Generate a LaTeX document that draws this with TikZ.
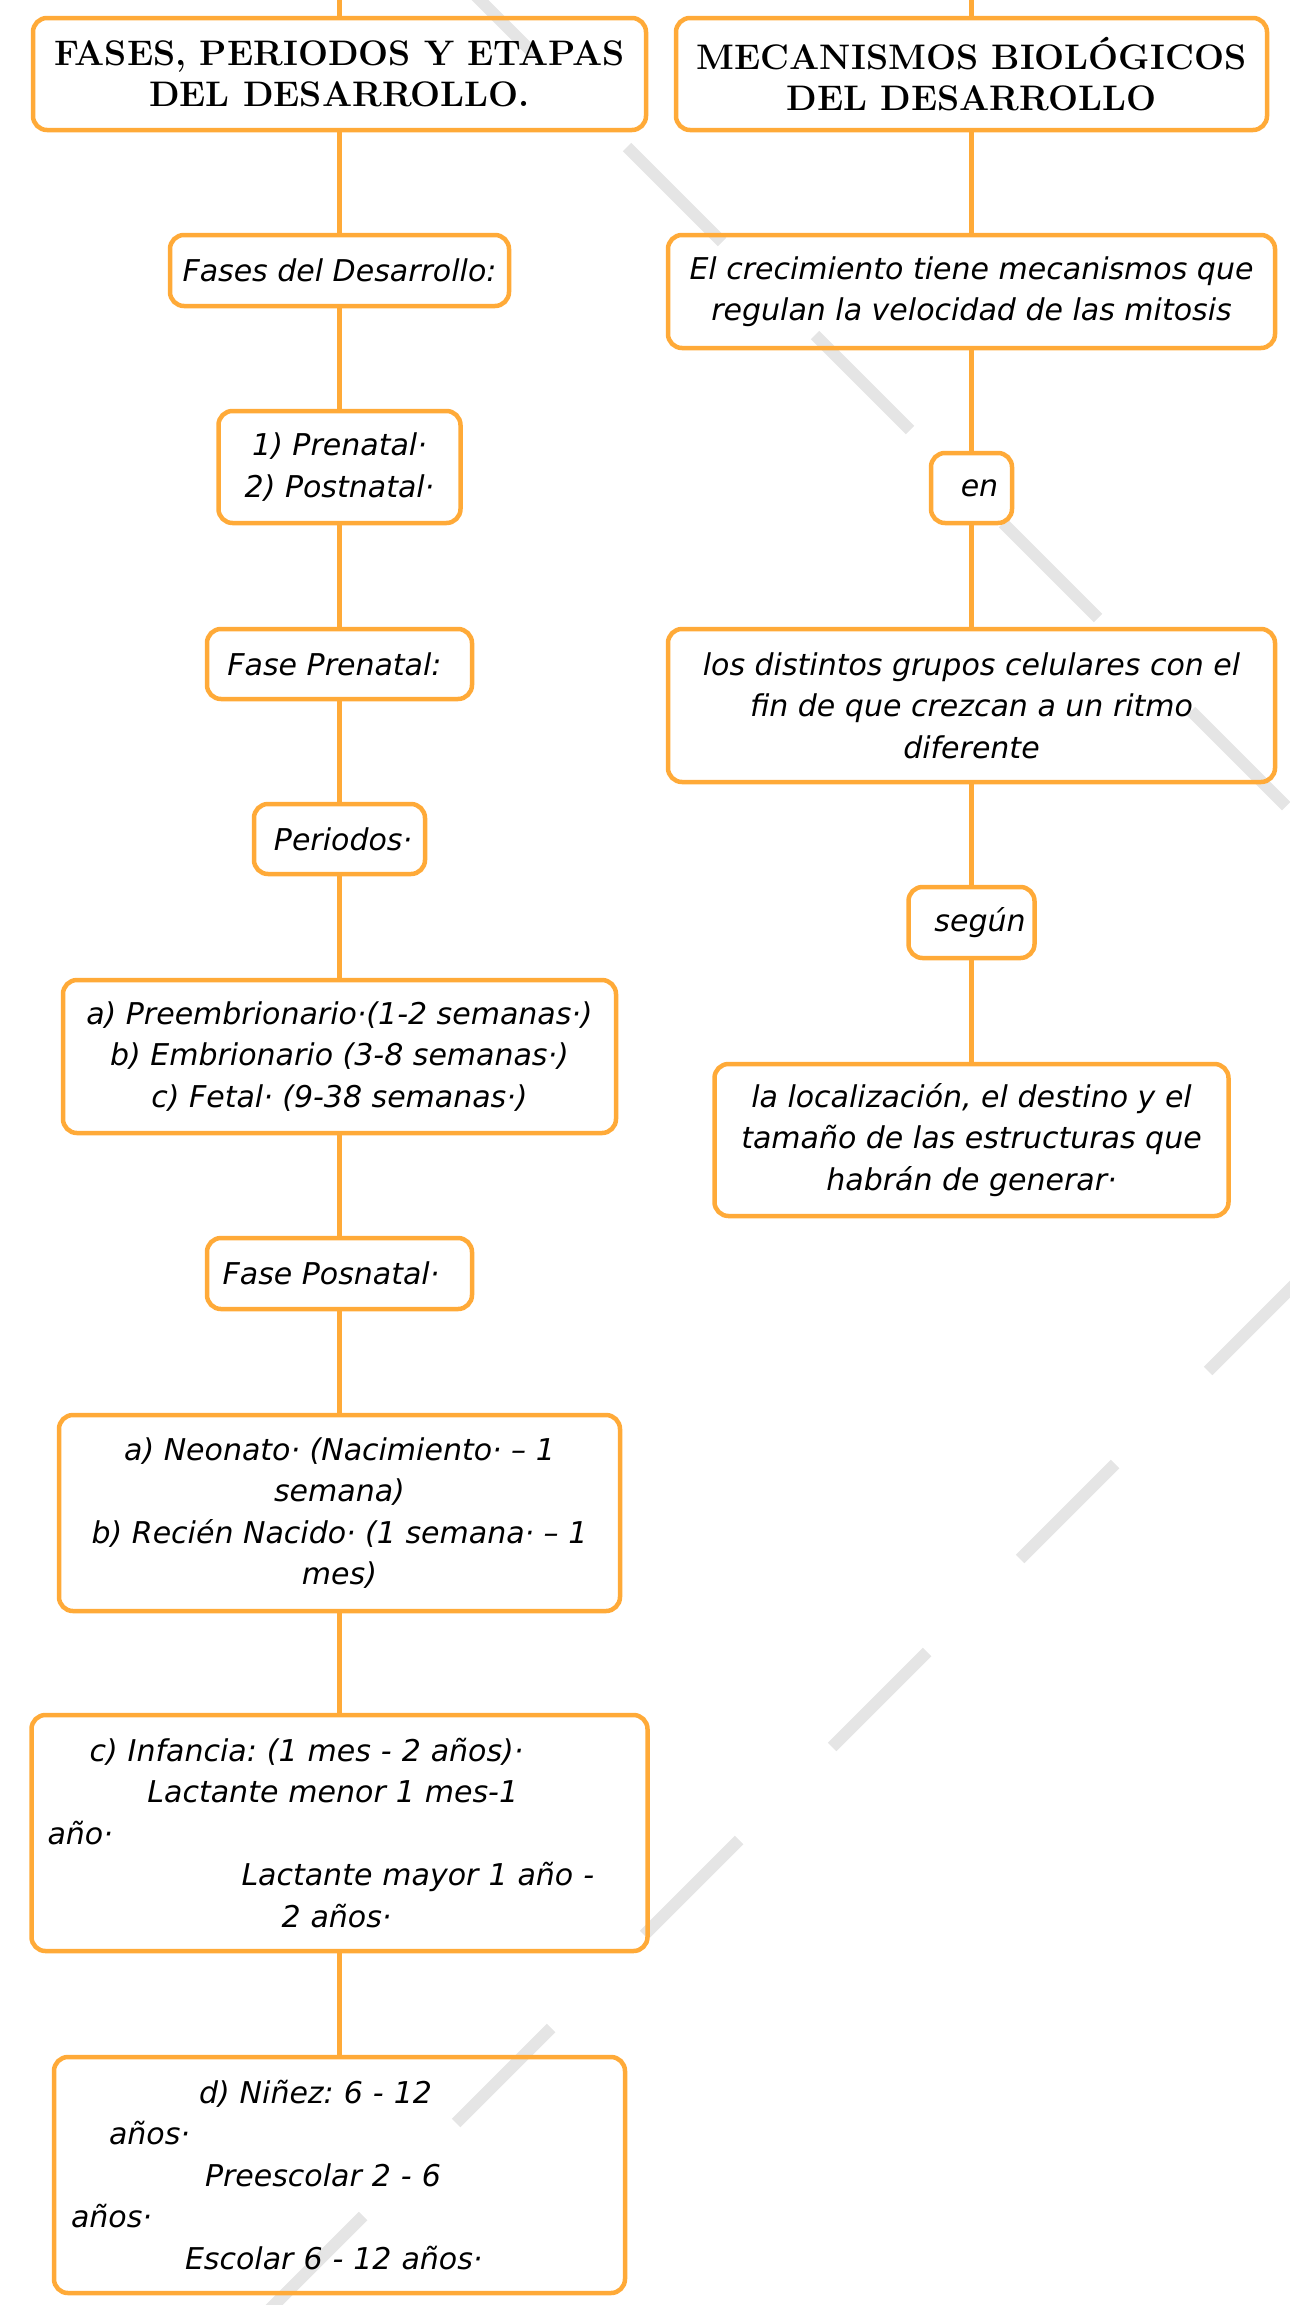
\documentclass[tikz,border=0pt]{standalone}
\usepackage{fontspec}
\usepackage{tikz}
\newfontfamily\manofont{DejaVu Sans}
\definecolor{naranja}{RGB}{255,170,56}
\definecolor{marca}{RGB}{229,229,229}
\frenchspacing

\begin{document}
\begin{tikzpicture}[x=1pt,y=-1pt,
    caja/.style={draw=naranja, line width=4.5pt, rounded corners=14pt, inner sep=0pt, align=center,
        font=\manofont\itshape\fontsize{30}{41.5}\selectfont},
    titulo/.style={caja, font=\bfseries\fontsize{35.5}{41}\selectfont},
    linea/.style={draw=naranja, line width=4.5pt},
    marcaagua/.style={draw=marca, line width=12pt, dash pattern=on 134.4pt off 131.5pt}]
    \useasboundingbox (0,0) rectangle (1290,2305);

    % marca de agua
    \draw[marcaagua] (439,-41) -- (1400,920);
    \draw[marcaagua] (268,2311) -- (1400,1179);

    % titulos
    \coordinate (arribaL) at (339.5,0);
    \coordinate (arribaR) at (971.5,0);
    \node[titulo, minimum width=613pt, minimum height=112pt] (fases) at (339.5,74) {FASES, PERIODOS Y ETAPAS\\DEL DESARROLLO.};
    \node[titulo, minimum width=591pt, minimum height=112pt] (mecanismos) at (971.5,74) {MECANISMOS BIOLÓGICOS\\DEL DESARROLLO};

    % columna izquierda
    \node[caja, minimum width=339pt, minimum height=71pt] (fasesdes) at (339.5,270.5) {Fases del Desarrollo:};
    \node[caja, minimum width=242pt, minimum height=112pt] (prepost) at (339.5,467) {1) Prenatal·\\2) Postnatal·};
    \node[caja, minimum width=265pt, minimum height=70pt] (prenatal) at (339.5,664) {Fase Prenatal:\hspace*{10pt}};
    \node[caja, minimum width=171pt, minimum height=70pt] (periodos) at (339.5,839) {\hspace*{7pt}Periodos·};
    \node[caja, minimum width=553pt, minimum height=153pt] (etapas) at (339.5,1056.5) {a) Preembrionario·(1-2 semanas·)\\b) Embrionario (3-8 semanas·)\\c) Fetal· (9-38 semanas·)};
    \node[caja, minimum width=265pt, minimum height=71pt] (posnatal) at (339.5,1273.5) {Fase Posnatal·\hspace*{17pt}};
    \node[caja, minimum width=561pt, minimum height=196pt] (neonato) at (339.5,1513) {a) Neonato· (Nacimiento· – 1\\semana)\\b) Recién Nacido· (1 semana· – 1\\mes)};
    \node[caja, minimum width=616pt, minimum height=236pt, text width=584pt, align=left] (infancia) at (339.5,1833)
        {\hspace*{42pt}c) Infancia: (1 mes - 2 años)·\\\hspace*{100pt}Lactante menor 1 mes-1\\año·\\\hspace*{194pt}Lactante mayor 1 año -\\\hspace*{234pt}2 años·};
    \node[caja, minimum width=571pt, minimum height=236pt, text width=537pt, align=left] (ninez) at (339.5,2175)
        {\hspace*{128pt}d) Niñez: 6 - 12\\\hspace*{38pt}años·\\\hspace*{134pt}Preescolar 2 - 6\\años·\\\hspace*{114pt}Escolar 6 - 12 años·};

    % columna derecha
    \node[caja, minimum width=607pt, minimum height=113pt] (crecimiento) at (971.5,291.5) {El crecimiento tiene mecanismos que\\regulan la velocidad de las mitosis};
    \node[caja, minimum width=81pt, minimum height=70pt] (en) at (971.5,488) {\hspace*{16pt}en};
    \node[caja, minimum width=607pt, minimum height=153pt] (distintos) at (971.5,705.5) {los distintos grupos celulares con el\\fin de que crezcan a un ritmo\\diferente};
    \node[caja, minimum width=126pt, minimum height=71pt] (segun) at (971.5,922.5) {\hspace*{17pt}según};
    \node[caja, minimum width=514pt, minimum height=152pt] (localizacion) at (971.5,1140) {la localización, el destino y el\\tamaño de las estructuras que\\habrán de generar·};

    % conectores
    \draw[linea] (arribaL) -- (fases);
    \draw[linea] (arribaR) -- (mecanismos);
    \draw[linea] (fases) -- (fasesdes);
    \draw[linea] (fasesdes) -- (prepost);
    \draw[linea] (prepost) -- (prenatal);
    \draw[linea] (prenatal) -- (periodos);
    \draw[linea] (periodos) -- (etapas);
    \draw[linea] (etapas) -- (posnatal);
    \draw[linea] (posnatal) -- (neonato);
    \draw[linea] (neonato) -- (infancia);
    \draw[linea] (infancia) -- (ninez);
    \draw[linea] (mecanismos) -- (crecimiento);
    \draw[linea] (crecimiento) -- (en);
    \draw[linea] (en) -- (distintos);
    \draw[linea] (distintos) -- (segun);
    \draw[linea] (segun) -- (localizacion);
\end{tikzpicture}
\end{document}
